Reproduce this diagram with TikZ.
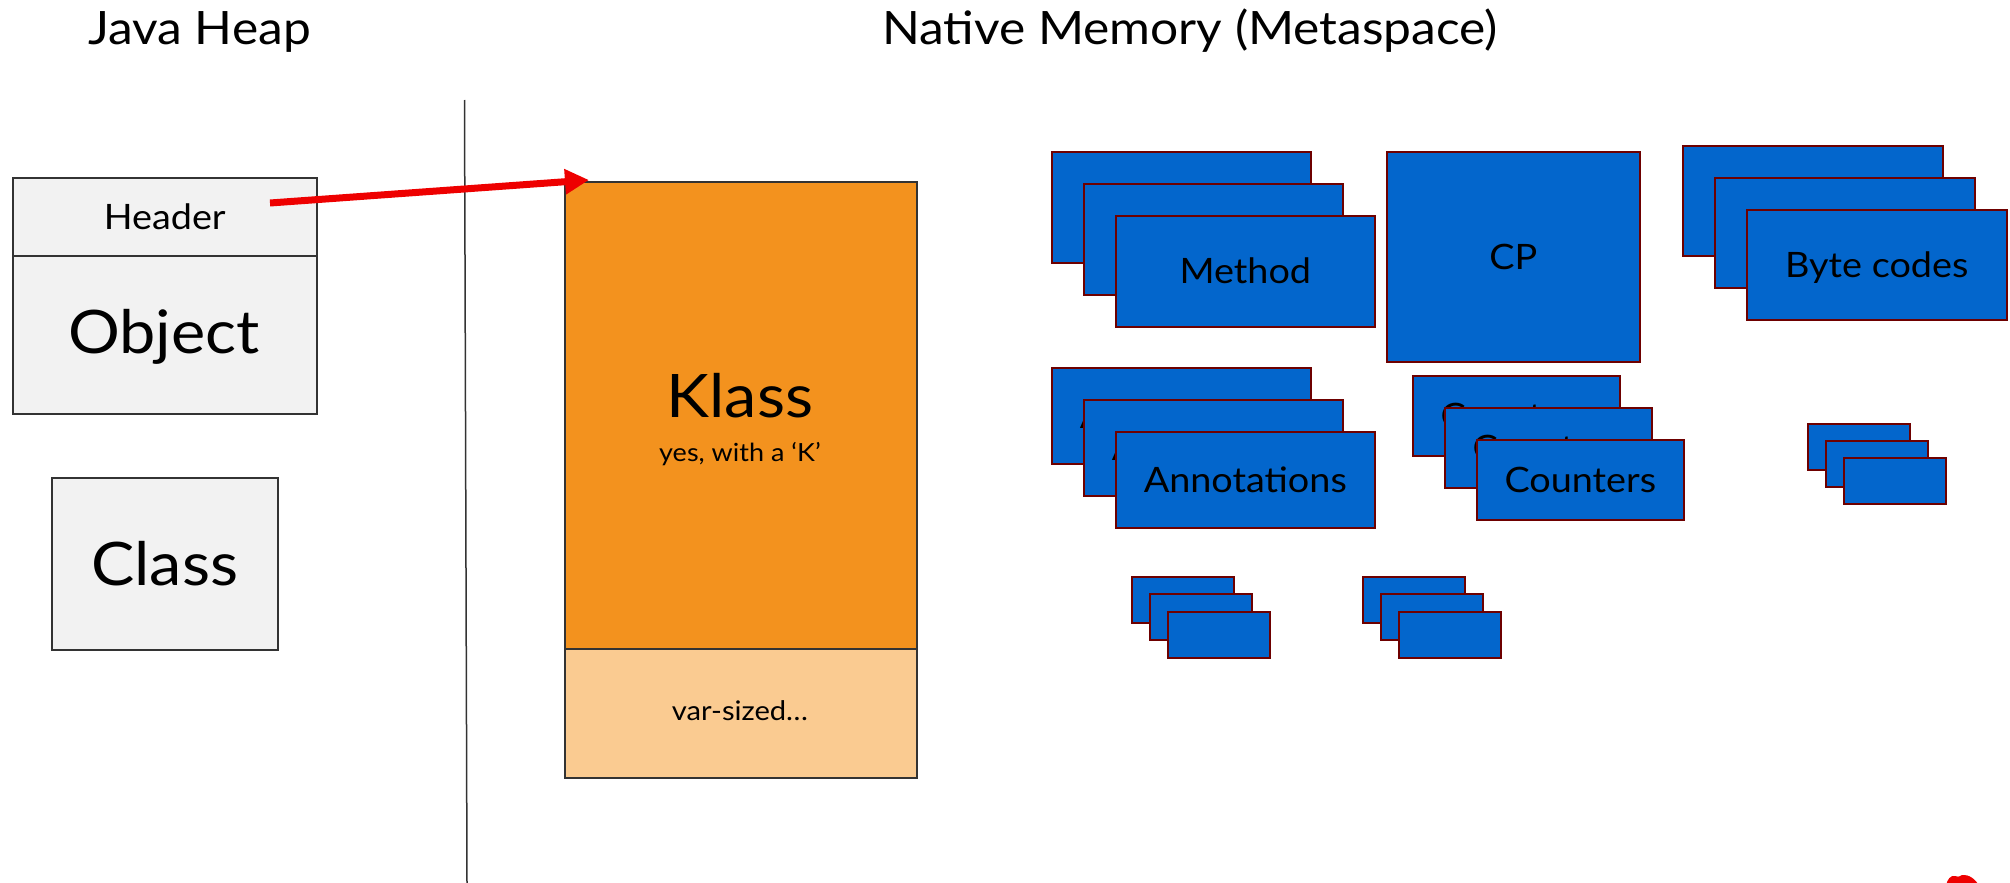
\documentclass[tikz,border=0pt]{standalone}
\usepackage{fontspec}
\setmainfont{Lato}[FakeStretch=1.08]
\usetikzlibrary{arrows.meta}

\definecolor{heapfill}{RGB}{242,242,242}
\definecolor{heapline}{RGB}{51,51,51}
\definecolor{klassfill}{RGB}{243,146,30}
\definecolor{varfill}{RGB}{250,203,145}
\definecolor{metablue}{RGB}{3,102,204}
\definecolor{metaline}{RGB}{110,0,0}
\definecolor{ptrred}{RGB}{238,0,0}

\newcommand{\setfs}[1]{\fontsize{#1}{#1}\selectfont}

\begin{document}
\begin{tikzpicture}[x=1pt,y=-1pt,
  title/.style={anchor=base, font=\setfs{46}},
  heapbox/.style={draw=heapline, fill=heapfill, line width=1.5pt,
    anchor=north west, inner sep=0pt, text depth=0pt},
  klassbox/.style={draw=heapline, line width=1.5pt, anchor=north west, inner sep=0pt},
  metabox/.style={draw=metaline, fill=metablue, line width=1.6pt,
    anchor=north west, inner sep=0pt, font=\setfs{35},
    text height=25.1pt, text depth=0pt},
  stackA/.style={metabox, minimum width=259pt, minimum height=111pt},
  stackB/.style={metabox, minimum width=259pt, minimum height=96pt},
  stackC/.style={metabox, minimum width=207pt, minimum height=80pt},
  stackD/.style={metabox, minimum width=260pt, minimum height=110pt},
  chip/.style={metabox, minimum width=102pt, minimum height=46pt},
  ptr/.style={draw=ptrred, line width=7pt, -{Triangle[length=24pt,width=24pt]}}
]
\useasboundingbox (0,0) rectangle (2010,883);

% section titles
\node[title] (jheap) at (199.5,45) {Java Heap};
\node[title] (native) at (1190,45) {Native Memory (Metaspace)};

% divider between heap and metaspace
\coordinate (divtop) at (464.5,100);
\coordinate (divbot) at (467,883);
\draw[line width=1.5pt, heapline] (divtop) -- (divbot);

% java heap: object with its header, and the class mirror
\node[heapbox, minimum width=304pt, minimum height=236pt] (object) at (12,177) {};
\node[heapbox, minimum width=304pt, minimum height=78pt, font=\setfs{35},
      text height=25.1pt] (header) at (12,177) {Header};
\node[anchor=base, font=\setfs{60}] (objlabel) at (164,353) {Object};
\node[heapbox, minimum width=226pt, minimum height=172pt, font=\setfs{60},
      text height=43pt] (class) at (51,477) {Class};

% the Klass structure
\node[klassbox, fill=klassfill, minimum width=352pt, minimum height=467pt] (klass) at (564,181) {};
\node[klassbox, fill=varfill, minimum width=352pt, minimum height=129pt] (varpart) at (564,648) {};
\node[anchor=base, font=\setfs{60}] (klassname) at (740,417) {Klass};
\node[anchor=base, font=\setfs{25}] (klassnote) at (740,461) {yes, with a ‘K’};
\node[anchor=base, font=\setfs{27}] (varlabel) at (740,720) {var-sized…};

% header points at the Klass
\coordinate (hdrptr) at (270,203);
\draw[ptr] (hdrptr) -- ([xshift=25pt,yshift=1pt]klass.north west);

% methods
\node[stackA] (meth1) at (1051,151) {};
\node[stackA] (meth2) at (1083,183) {};
\node[stackA] (meth3) at (1115,215) {Method};

% constant pool
\node[metabox, minimum width=253pt, minimum height=210pt] (cp) at (1386,151) {CP};

% byte codes
\node[stackD] (bc1) at (1682,145) {};
\node[stackD] (bc2) at (1714,177) {};
\node[stackD] (bc3) at (1746,209) {Byte codes};

% annotations
\node[stackB] (ann1) at (1051,367) {Annotations};
\node[stackB] (ann2) at (1083,399) {Annotations};
\node[stackB] (ann3) at (1115,431) {Annotations};

% counters
\node[stackC] (cnt1) at (1412,375) {Counters};
\node[stackC] (cnt2) at (1444,407) {Counters};
\node[stackC] (cnt3) at (1476,439) {Counters};

% small blocks
\node[chip] (sa1) at (1807,423) {};
\node[chip] (sa2) at (1825,440) {};
\node[chip] (sa3) at (1843,457) {};

\node[chip] (sb1) at (1131,576) {};
\node[chip] (sb2) at (1149,593) {};
\node[chip] (sb3) at (1167,611) {};

\node[chip] (sc1) at (1362,576) {};
\node[chip] (sc2) at (1380,593) {};
\node[chip] (sc3) at (1398,611) {};

% red mark at the lower edge
\fill[ptrred] (1946,886) .. controls (1947,879) and (1951,875) .. (1955,876)
  .. controls (1957,877) and (1959,877) .. (1962,875)
  .. controls (1968,874) and (1976,879) .. (1979,886) -- cycle;
\end{tikzpicture}
\end{document}
